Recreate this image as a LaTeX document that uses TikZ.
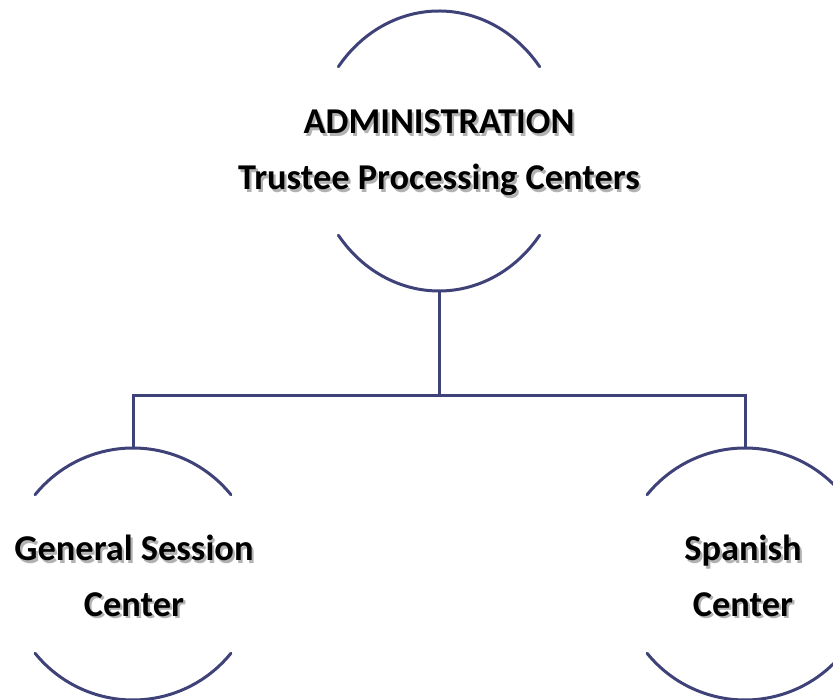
\documentclass[tikz,border=0pt]{standalone}
\usepackage{fontspec}
\setmainfont{Carlito}
\usetikzlibrary{shapes.geometric}
\definecolor{ringblue}{HTML}{3F4278}
\tikzset{
  ring/.style={draw=ringblue, line width=3bp, line cap=round},
  link/.style={draw=ringblue, line width=3bp},
  label/.style={align=center, font=\bfseries\fontsize{36.5}{56}\selectfont, inner sep=0pt},
  shade/.style={label, text=black, text opacity=0.3},
}
% label with a soft drop shadow
\newcommand{\shadowlabel}[3]{%
  \node[shade] at ([shift={(2.2,-2.4)}]#1) {#3};
  \node[label] (#2) at (#1) {#3};
}
\begin{document}
\begin{tikzpicture}[x=1bp,y=1bp]
  \useasboundingbox (0,0) rectangle (833,700);
  \clip (0,0) rectangle (833,700);

  % outlines of the three units (only the tops and bottoms are drawn)
  \node[ellipse, minimum width=252bp, minimum height=280bp, inner sep=0pt] (admin) at (439,549) {};
  \node[circle, minimum size=252bp, inner sep=0pt] (general) at (133,126) {};
  \node[circle, minimum size=252bp, inner sep=0pt] (spanish) at (745,126) {};

  \draw[ring] ([shift={(37:126 and 140)}]admin.center) arc[start angle=37, end angle=143, x radius=126, y radius=140];
  \draw[ring] ([shift={(217:126 and 140)}]admin.center) arc[start angle=217, end angle=323, x radius=126, y radius=140];

  \draw[ring] ([shift={(39:126)}]general.center) arc[start angle=39, end angle=141, radius=126];
  \draw[ring] ([shift={(219:126)}]general.center) arc[start angle=219, end angle=321, radius=126];

  \draw[ring] ([shift={(39:126)}]spanish.center) arc[start angle=39, end angle=141, radius=126];
  \draw[ring] ([shift={(219:126)}]spanish.center) arc[start angle=219, end angle=321, radius=126];

  % connectors
  \coordinate (hub) at (439,304);
  \draw[link] (admin.south) -- (hub);
  \draw[link] (general.north) |- (hub) -| (spanish.north);

  % labels
  \shadowlabel{439,547}{adminlabel}{ADMINISTRATION\\Trustee Processing Centers}
  \shadowlabel{134,124}{generallabel}{General Session\\Center}
  \shadowlabel{743,124}{spanishlabel}{Spanish\\Center}
\end{tikzpicture}
\end{document}
